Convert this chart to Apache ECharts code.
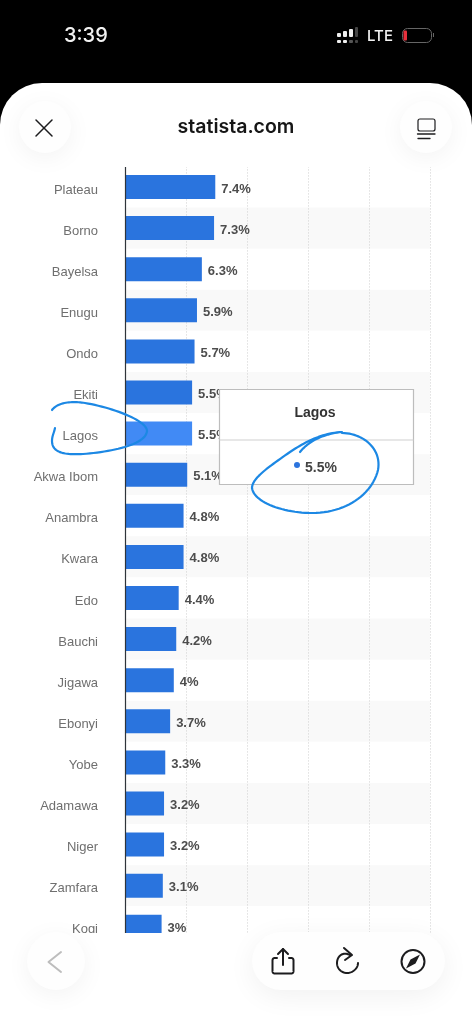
<!DOCTYPE html>
<html><head><meta charset="utf-8">
<style>html,body{margin:0;padding:0;background:#fff}#c{width:472px;height:1024px}</style>
<script src="https://cdn.jsdelivr.net/npm/echarts@6/dist/echarts.min.js"></script>
</head><body><div id="c"></div>
<script>
const categories = ["Plateau","Borno","Bayelsa","Enugu","Ondo","Ekiti","Lagos","Akwa Ibom","Anambra","Kwara","Edo","Bauchi","Jigawa","Ebonyi","Yobe","Adamawa","Niger","Zamfara","Kogi"];
const shares = [7.4,7.3,6.3,5.9,5.7,5.5,5.5,5.1,4.8,4.8,4.4,4.2,4,3.7,3.3,3.2,3.2,3.1,3];
const highlighted = "Lagos";
const highlightedShare = shares[categories.indexOf(highlighted)];

const FONT = '"Liberation Sans", Arial, sans-serif';
const UI = 'Inter, Roboto, sans-serif';
const chart = echarts.init(document.getElementById('c'), null, {renderer:'canvas', width:472, height:1024});

const ink = '#1c1c1e';
// Sketch strokes: M/L/Q/C commands turned into polylines for the graphic component.
function subpaths(d){
  const t = d.match(/[MLQC]|-?[\d.]+/g); let i=0, cur=null, out=[], p=[0,0];
  const n=()=>parseFloat(t[i++]);
  while(i<t.length){
    const c=t[i++];
    if(c==='M'){ p=[n(),n()]; cur=[p]; out.push(cur); }
    else if(c==='L'){ p=[n(),n()]; cur.push(p); }
    else if(c==='Q'){ const a=[n(),n()],b=[n(),n()];
      for(let k=1;k<=12;k++){const u=k/12,v=1-u; cur.push([v*v*p[0]+2*v*u*a[0]+u*u*b[0], v*v*p[1]+2*v*u*a[1]+u*u*b[1]]);} p=b; }
    else if(c==='C'){ const a=[n(),n()],b=[n(),n()],e=[n(),n()];
      for(let k=1;k<=24;k++){const u=k/24,v=1-u; cur.push([v*v*v*p[0]+3*v*v*u*a[0]+3*v*u*u*b[0]+u*u*u*e[0], v*v*v*p[1]+3*v*v*u*a[1]+3*v*u*u*b[1]+u*u*u*e[1]]);} p=e; }
  }
  return out;
}
const line = (d, stroke, w, z) => subpaths(d).map(points=>({type:'polyline', z:z||100, shape:{points}, style:{fill:null, stroke, lineWidth:w, lineCap:'round', lineJoin:'round'}}));
const rect = (x,y,width,height,fill,r,z) => ({type:'rect', z:z||100, shape:{x,y,width,height,r:r||0}, style:{fill}});
const circle = (cx,cy,r,z) => ({type:'circle', z:z||96, shape:{cx,cy,r}, style:{fill:'#fefefe', shadowBlur:24, shadowColor:'rgba(0,0,0,0.05)', shadowOffsetY:5}});
const txt = (x,y,text,font,fill,align,z) => ({type:'text', z:z||100, x, y, style:{text, font, fill, align:align||'center', verticalAlign:'middle'}});

const graphics = [
  // top and bottom masks
  rect(0,0,472,125,'#000',0,90),
  rect(0,83,472,84,'#fff',[42,42,0,0],91),
  rect(0,933,472,91,'#fff',0,91),
  // status bar
  txt(64,36,'3:39','500 20px '+UI,'#f2f2f2','left'),
  txt(380,36,'LTE','500 15px '+UI,'#f2f2f2','center'),
  rect(337,33,4,4,'#eee',1), rect(337,40,4,3,'#eee',1),
  rect(343,31,4,6,'#eee',1), rect(343,40,4,3,'#eee',1),
  rect(349,29,4,8,'#eee',1), rect(349,40,4,3,'#555',1),
  rect(355,27,3,10,'#444',1), rect(355,40,3,3,'#444',1),
  {type:'rect', z:100, shape:{x:402.5,y:28.5,width:29,height:14,r:5}, style:{fill:null,stroke:'#666',lineWidth:1}},
  rect(403.5,30.5,3.5,10,'#e8303c',1),
  rect(433,33,1,4,'#666',0),
  // header
  txt(236,127,'statista.com','600 19.5px '+UI,'#161616'),
  circle(45,127,26), circle(426,127,26),
  ...line('M36 120 L52 136 M52 120 L36 136', ink, 1.5),
  {type:'rect', z:100, shape:{x:418,y:119,width:17,height:12,r:2}, style:{fill:null,stroke:ink,lineWidth:1.2}},
  ...line('M417.5 134 L435 134 M418 138.5 L430 138.5', ink, 1.3),
  // tooltip
  {type:'rect', z:92, shape:{x:219.5,y:389.5,width:194,height:95}, style:{fill:'#fff',stroke:'#bdbdbd',lineWidth:1.2}},
  ...line('M220 440 L413 440','#d0d0d0',1.2,93),
  txt(315,413,highlighted,'bold 14px '+FONT,'#333','center',93),
  {type:'circle', z:93, shape:{cx:297,cy:465,r:3}, style:{fill:'#2c74dd'}},
  txt(305,468,highlightedShare+'%','bold 14px '+FONT,'#444','left',93),
  // hand-drawn marks
  ...line('M52 410 C58 402 72 401 85 403 C110 407 147 420 147 431 C146 445 110 452 83 454 C65 455 52 453 52 441 C52 436 54 433 55 428','#1c88e4',2.2,99),
  ...line('M300 452 C308 442 322 434 342 432 C322 433 305 442 290 452 C270 466 252 478 252 488 C254 503 285 513 312 513 C345 513 372 495 378 470 C382 448 362 433 342 433','#1c88e4',2.2,99),
  // bottom bar
  circle(56,961,29),
  ...line('M61 952 L48.5 962 L61 972','#bdbdbd',2),
  {type:'rect', z:96, shape:{x:252,y:932,width:193,height:58,r:29}, style:{fill:'#fefefe',shadowBlur:28,shadowColor:'rgba(0,0,0,0.06)',shadowOffsetY:6}},
  ...line('M277 958 L275 958 Q272.5 958 272.5 960.5 L272.5 971 Q272.5 973.5 275 973.5 L291 973.5 Q293.5 973.5 293.5 971 L293.5 960.5 Q293.5 958 291 958 L289 958 M283 965 L283 949 M278 954 L283 949 L288 954', ink, 2),
  ...line('M350 955 C342 951 337 957 337 963 C337 969 342 973 347 973 C353 973 358 968 358 963 M344 948 L352 955 L345 960', ink, 2),
  {type:'circle', z:100, shape:{cx:413,cy:961.5,r:11.5}, style:{fill:null,stroke:ink,lineWidth:2}},
  {type:'polygon', z:100, shape:{points:[[420,954.5],[415.5,963.5],[406,968.5],[410.5,959.5]]}, style:{fill:ink}},
];

chart.setOption({
  animation:false,
  backgroundColor:'#fff',
  grid:{left:125, width:305, top:166.45, height:780.9, containLabel:false},
  xAxis:{type:'value', min:0, max:25, interval:5, position:'top',
    axisLabel:{show:false}, axisLine:{show:false}, axisTick:{show:false},
    splitLine:{show:true, lineStyle:{type:[1,2], color:'#cfcfcf', width:1}}},
  yAxis:[
    {type:'category', inverse:true, data:categories,
      axisLine:{show:false}, axisTick:{show:false},
      axisLabel:{color:'#6f6f6f', fontFamily:FONT, fontSize:13, margin:27, verticalAlign:'top', lineHeight:6},
      splitArea:{show:true, areaStyle:{color:['#ffffff','#f9f9f9']}}},
    {type:'category', inverse:true, data:categories, position:'left', z:6,
      axisLine:{show:true, onZero:false, lineStyle:{color:'#2f343a', width:1.2}}, axisTick:{show:false},
      axisLabel:{show:false}, splitLine:{show:false}, splitArea:{show:false}}
  ],
  series:[{type:'bar', barWidth:24, z:2, yAxisIndex:0,
    data:categories.map((name,i)=>({value:shares[i], itemStyle:{color:name===highlighted?'#418af5':'#2a74de'}})),
    label:{show:true, position:'right', distance:6, offset:[0,2], color:'#4d4d4d', fontFamily:FONT, fontWeight:'bold', fontSize:13, formatter:p=>p.value+'%'}}],
  graphic:{elements:graphics}
});
</script></body></html>
